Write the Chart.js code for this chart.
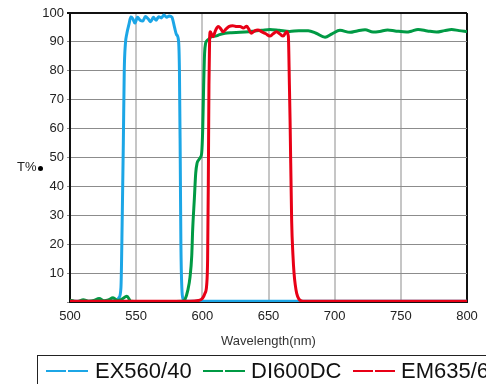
<!DOCTYPE html>
<html>
<head>
<meta charset="utf-8">
<script src="https://cdn.jsdelivr.net/npm/chart.js@4"></script>
<style>
  html, body { margin: 0; padding: 0; background: #fff; overflow: hidden; }
  #wrap { position: relative; width: 486px; height: 384px; font-family: "Liberation Sans", Arial, sans-serif; }
  #yTitle { position: absolute; left: 17px; top: 159px; font-size: 13px; color: #222; }
  #yTitle .dot { display: inline-block; width: 5px; height: 5px; border-radius: 50%; background: #000; margin-left: 1px; }
  #legend { position: absolute; left: 37px; top: 355px; width: 520px; height: 40px; border: 1px solid #222; }
  .lg-dash { position: absolute; top: 14px; width: 20px; height: 2px; }
  .lg-text { position: absolute; top: 2px; font-size: 22px; color: #111; white-space: nowrap; }
</style>
</head>
<body>
<div id="wrap">
  <canvas id="filterChart"></canvas>
  <div id="yTitle">T%<span class="dot"></span></div>
  <div id="legend"></div>
</div>
<script>
// series names and colours
const seriesNames = ["EX560/40", "DI600DC", "EM635/60"];
const seriesColors = ["rgb(28,166,230)", "rgb(0,154,68)", "rgb(232,0,22)"];

// wavelength (nm) / transmission (%)
const exWave = [500, 520, 535, 537, 538.5, 539.5, 540.3, 541, 541.8, 543, 544.5, 546, 547.5, 549, 551, 553, 555, 557, 559, 561, 563, 565, 567, 569, 571, 573, 575, 577, 579, 580.5, 582, 582.7, 583.3, 583.8, 584.5, 585.5, 587, 800];
const exT    = [0.3, 0.3, 0.5, 1.5, 5, 30, 55, 80, 89, 93, 96, 98.6, 98, 96.5, 98.5, 97.5, 97.2, 98.8, 98, 97, 98.5, 97.5, 98.7, 98.3, 99.3, 98.5, 99, 98.6, 95, 92.5, 90.5, 80, 50, 20, 5, 1, 0.3, 0.3];

const diWave = [500, 503, 506, 510, 514, 518, 522, 526, 529, 532.5, 536, 539, 543, 546, 560, 585, 587, 589, 590.7, 592, 592.7, 594, 595, 596, 597, 598.5, 599.5, 600.3, 601, 601.7, 602.5, 603.3, 605, 607, 610, 613, 617, 622, 628.5, 635, 640, 645, 651, 658, 666, 673, 680, 686, 692.7, 698, 704, 711.6, 717, 723, 729, 734, 740, 745.6, 754.4, 758, 763, 770, 777, 783, 788.4, 794, 800];
const diT    = [0.6, 0.3, 0.2, 0.8, 0.3, 0.5, 1.2, 0.4, 0.7, 1.5, 0.5, 0.9, 2, 0.3, 0.2, 0.3, 1, 4, 8.6, 16, 25, 36, 44.6, 48, 49, 50, 51.5, 60, 75, 86, 89.5, 90.3, 91, 91.8, 92, 92.5, 93, 93.2, 93.3, 93.5, 93.8, 94, 94.3, 94, 93.6, 93.9, 93.9, 93, 91.6, 92.8, 94, 93.3, 93.8, 94.2, 93.4, 93.6, 94.1, 93.8, 93.4, 93.7, 94.3, 93.8, 93.4, 93.9, 94.3, 93.9, 93.6];

const emWave = [500, 590, 597, 600, 602, 603.3, 604, 604.5, 605, 605.5, 606, 608, 610, 612, 614, 615.6, 618, 620, 623, 626, 628.5, 631, 633.5, 635, 637, 639.5, 642, 645, 648, 651, 653.5, 656, 658.5, 661, 663.7, 665, 665.8, 666.3, 667.5, 668.5, 669.3, 670.2, 671.3, 673, 676, 800];
const emT    = [0.3, 0.3, 0.5, 1.2, 3, 6, 15, 40, 75, 91, 93.5, 91.8, 94, 95.3, 94.5, 93.5, 94.5, 95.3, 95.6, 95.3, 95.3, 94.8, 95.4, 94.5, 93, 93.8, 94.1, 93.5, 92.8, 92, 92.8, 93.5, 92.8, 92, 93.5, 92, 75, 63, 28, 16, 10, 6, 3, 1, 0.3, 0.3];

// axis ticks
const xTicks = [500, 550, 600, 650, 700, 750, 800];
const yTicks = [10, 20, 30, 40, 50, 60, 70, 80, 90, 100];

function toPoints(xs, ys) {
    return xs.map((x, i) => ({ x: x, y: ys[i] }));
}

const allSeries = [toPoints(exWave, exT), toPoints(diWave, diT), toPoints(emWave, emT)];
const drawOrder = [2, 1, 0]; // red on top

const datasets = allSeries.map((pts, i) => ({
    label: seriesNames[i],
    data: pts,
    borderColor: seriesColors[i],
    backgroundColor: seriesColors[i],
    borderWidth: 3,
    pointRadius: 0,
    cubicInterpolationMode: 'monotone',
    order: drawOrder[i]
}));

const tickFont = { family: '"Liberation Sans", Arial, sans-serif', size: 13 };

new Chart(document.getElementById("filterChart").getContext("2d"), {
    type: "line",
    data: { datasets: datasets },
    options: {
        responsive: true,
        maintainAspectRatio: false,
        animation: false,
        layout: { padding: { left: 0, top: 13, right: 19, bottom: 32 } },
        plugins: {
            legend: { display: false },
            tooltip: { enabled: false }
        },
        scales: {
            x: {
                type: 'linear',
                min: 500,
                max: 800,
                afterBuildTicks: function(scale) {
                    scale.ticks = xTicks.map(v => ({ value: v }));
                },
                afterFit: function(scale) { scale.height = 50; },
                ticks: { color: '#222', font: tickFont, padding: 7, maxRotation: 0 },
                grid: {
                    drawTicks: false,
                    color: ctx => ctx.tick && ctx.tick.value === 800 ? '#111' : 'rgba(160,160,160,0.6)',
                    lineWidth: 2
                },
                border: { color: '#111', width: 2 },
                title: {
                    display: true,
                    text: 'Wavelength(nm)',
                    color: '#333',
                    font: tickFont,
                    padding: { top: 0, bottom: 3 }
                }
            },
            y: {
                min: 0,
                max: 100,
                afterBuildTicks: function(scale) {
                    scale.ticks = [{ value: 0 }].concat(yTicks.map(v => ({ value: v })));
                },
                afterFit: function(scale) { scale.width = 70; },
                ticks: {
                    color: '#222',
                    font: tickFont,
                    padding: 3,
                    callback: v => v === 0 ? '' : v
                },
                grid: {
                    tickLength: 3,
                    color: ctx => ctx.tick && ctx.tick.value === 100 ? '#111' : '#8c8c8c',
                    lineWidth: ctx => ctx.tick && ctx.tick.value === 100 ? 2 : 1
                },
                border: { color: '#111', width: 2 }
            }
        }
    }
});

// legend row, cut at the right edge like the source
const legend = document.getElementById("legend");
const sampleLeft = [8, 165, 315];
const textLeft = [57, 213, 363];
seriesNames.forEach(function(name, i) {
    [0, 22].forEach(function(off) {
        const dash = document.createElement("div");
        dash.className = "lg-dash";
        dash.style.left = (sampleLeft[i] + off) + "px";
        dash.style.background = seriesColors[i];
        legend.appendChild(dash);
    });
    const text = document.createElement("div");
    text.className = "lg-text";
    text.style.left = textLeft[i] + "px";
    text.textContent = name;
    legend.appendChild(text);
});
</script>
</body>
</html>
